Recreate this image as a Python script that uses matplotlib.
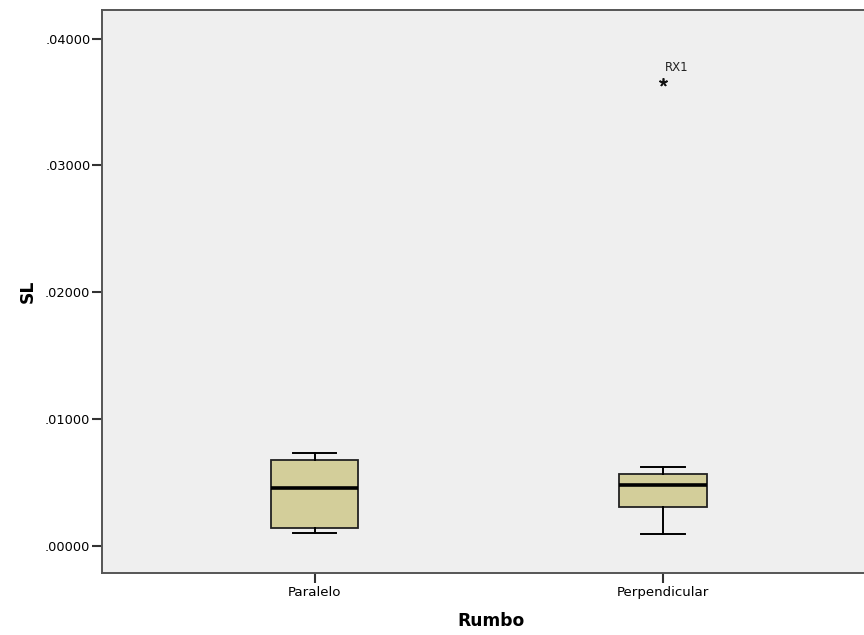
import matplotlib.pyplot as plt

plt.rcParams['font.family'] = ['DejaVu Sans']

# Box summary per heading group
groups = ['Paralelo', 'Perpendicular']
whisker_low = [0.00103, 0.00090]
q1 = [0.00137, 0.00308]
median = [0.00457, 0.00479]
q3 = [0.00678, 0.00563]
whisker_high = [0.00733, 0.00621]
outliers = [[], [0.03655]]
outlier_labels = [[], ['RX1']]

yticks = [0.0, 0.01, 0.02, 0.03, 0.04]

fig = plt.figure(figsize=(8.64, 6.35), dpi=100)
ax = fig.add_axes([0.1175, 0.0976, 0.902, 0.8866])
ax.set_facecolor('#efefef')

stats = []
for i, g in enumerate(groups):
    stats.append({'label': g, 'whislo': whisker_low[i], 'q1': q1[i], 'med': median[i],
                  'q3': q3[i], 'whishi': whisker_high[i], 'fliers': []})

ax.bxp(stats, positions=[1, 2], widths=0.25, patch_artist=True, showfliers=False,
       boxprops=dict(facecolor='#d3ce9a', edgecolor='#222222', linewidth=1.3),
       medianprops=dict(color='black', linewidth=2.6),
       whiskerprops=dict(color='black', linewidth=1.4),
       capprops=dict(color='black', linewidth=1.4),
       capwidths=0.125)

# extreme values as stars with case labels
for i, vals in enumerate(outliers):
    for v, lab in zip(vals, outlier_labels[i]):
        ax.plot(i + 1, v, marker=(5, 2, 0), color='#111111', markersize=6,
                markeredgewidth=1.2, linestyle='none')
        ax.annotate(lab, (i + 1, v), xytext=(1.5, 8), textcoords='offset points',
                    fontsize=8.5, color='#222222')

ax.set_xlim(0.388, 2.6255)
ax.set_ylim(-0.00215, 0.04225)
ax.set_yticks(yticks)
ax.set_yticklabels(['.' + f'{t:.5f}'.split('.')[1] for t in yticks])
ax.set_xticks([1, 2])
ax.set_xticklabels(groups)

for s in ['left', 'bottom', 'top', 'right']:
    ax.spines[s].set_color('#555555')
    ax.spines[s].set_linewidth(1.4)
ax.tick_params(axis='y', length=7, width=1.5, color='#333333', labelsize=9.3, pad=1)
ax.tick_params(axis='x', length=7, width=1.5, color='#333333', labelsize=9.6, pad=2.5)

ax.set_xlabel('Rumbo', fontsize=12.3, fontweight='bold', labelpad=9)
ax.set_ylabel('SL', fontsize=12.3, fontweight='bold', labelpad=6)

fig.savefig('out.png', dpi=100)
